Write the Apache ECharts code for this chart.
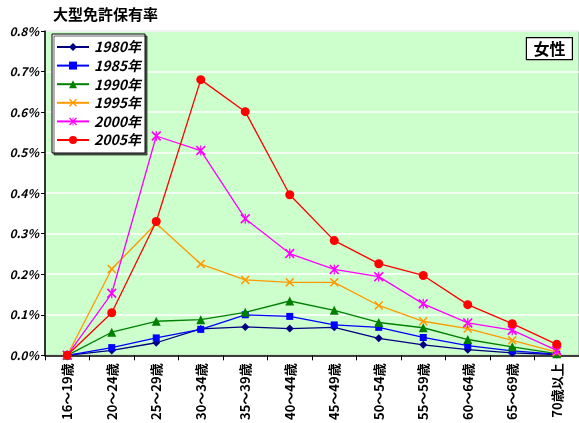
<!DOCTYPE html>
<html><head><meta charset="utf-8">
<script src="https://cdn.jsdelivr.net/npm/echarts@6/dist/echarts.min.js"></script>
<style>html,body{margin:0;padding:0;background:#fff}#c{width:579px;height:423px}</style>
</head><body><div id="c"></div>
<script>
var categories = ['16～19歳','20～24歳','25～29歳','30～34歳','35～39歳','40～44歳','45～49歳','50～54歳','55～59歳','60～64歳','65～69歳','70歳以上'];
var s1980 = [0, 0.012, 0.031, 0.065, 0.070, 0.066, 0.069, 0.042, 0.026, 0.014, 0.006, 0.002];
var s1985 = [0, 0.019, 0.043, 0.064, 0.100, 0.096, 0.075, 0.069, 0.044, 0.024, 0.011, 0.003];
var s1990 = [0, 0.057, 0.084, 0.088, 0.106, 0.134, 0.111, 0.081, 0.068, 0.039, 0.021, 0.004];
var s1995 = [0, 0.213, 0.325, 0.225, 0.186, 0.180, 0.180, 0.123, 0.084, 0.066, 0.037, 0.008];
var s2000 = [0, 0.153, 0.541, 0.505, 0.337, 0.251, 0.212, 0.194, 0.127, 0.080, 0.062, 0.012];
var s2005 = [0, 0.105, 0.330, 0.680, 0.601, 0.396, 0.283, 0.226, 0.197, 0.125, 0.078, 0.027];
var seriesNames = ['1980年','1985年','1990年','1995年','2000年','2005年'];
var yTicks = [0, 0.1, 0.2, 0.3, 0.4, 0.5, 0.6, 0.7, 0.8];

var xPath = 'path://M0,1.2 L1.2,0 L5,3.8 L8.8,0 L10,1.2 L6.2,5 L10,8.8 L8.8,10 L5,6.2 L1.2,10 L0,8.8 L3.8,5 Z';
var astPath = xPath + ' M4.4,0 L5.6,0 L5.6,10 L4.4,10 Z';
var styles = [
  {c:'#000080', s:'diamond', z:8},
  {c:'#0000ff', s:'rect', z:7},
  {c:'#008000', s:'triangle', z:9},
  {c:'#ff9900', s:xPath, z:9},
  {c:'#ff00ff', s:astPath, z:10},
  {c:'#ff0000', s:'circle', z:9}
];
var data = [s1980, s1985, s1990, s1995, s2000, s2005];
var font = '"Noto Sans CJK JP", "DejaVu Sans", sans-serif';

var chart = echarts.init(document.getElementById('c'), null, {renderer:'canvas'});
chart.setOption({
  animation: false,
  backgroundColor: '#fff',
  textStyle: {fontFamily: font},
  title: {
    text: '大型免許保有率', left: 48, top: 2,
    textStyle: {fontSize: 15, fontWeight: 'bold', color: '#000', fontFamily: font}
  },
  graphic: [{
    type: 'group', right: 6, top: 37,
    children: [
      {type:'rect', shape:{x:0,y:0,width:46,height:22}, style:{fill:'#fff', stroke:'#000', lineWidth:1.2}},
      {type:'text', x:23, y:11, style:{text:'女性', fill:'#000', font:'bold 16px "Noto Sans CJK JP"', align:'center', verticalAlign:'middle'}}
    ]
  }],
  legend: {
    orient: 'vertical', left: 52, top: 34,
    data: seriesNames,
    backgroundColor: '#fff', borderColor: '#000', borderWidth: 1,
    shadowColor: 'rgba(0,0,0,0.6)', shadowOffsetX: 2, shadowOffsetY: 2, shadowBlur: 0,
    padding: [6, 4, 6, 4],
    itemWidth: 32, itemHeight: 10, itemGap: 4.6,
    textStyle: {fontSize: 14, lineHeight: 14, fontWeight: 'bold', fontStyle: 'italic', color: '#000', fontFamily: font}
  },
  grid: {left: 45, top: 31, width: 538, height: 326, backgroundColor: '#ccffcc', show: true, borderColor: '#999', borderWidth: 1},
  xAxis: {
    type: 'category', data: categories, boundaryGap: true,
    axisLine: {lineStyle: {color: '#000', width: 1.5}},
    axisTick: {show: true, length: 5, lineStyle: {color: '#000'}},
    axisLabel: {rotate: 90, fontSize: 13, fontWeight: 'bold', color: '#000', margin: 8, fontFamily: font, interval: 0}
  },
  yAxis: {
    type: 'value', min: 0, max: 0.8, interval: 0.1,
    axisLine: {show: true, lineStyle: {color: '#000', width: 1.5}},
    axisTick: {show: true, length: 4, lineStyle: {color: '#000'}},
    splitLine: {lineStyle: {color: '#fff', width: 1.5}},
    axisLabel: {
      fontSize: 12, fontWeight: 'bold', fontStyle: 'italic', color: '#000', margin: 6, fontFamily: font,
      formatter: function(v){ return yTicks.indexOf(Math.round(v*10)/10) >= 0 ? v.toFixed(1) + '%' : ''; }
    }
  },
  series: data.map(function(d, i){
    return {
      name: seriesNames[i], type: 'line', data: d,
      symbol: styles[i].s, symbolSize: styles[i].z, showSymbol: true,
      lineStyle: {color: styles[i].c, width: 1.3},
      itemStyle: {color: styles[i].c},
      z: 2 + i
    };
  })
});
</script></body></html>
